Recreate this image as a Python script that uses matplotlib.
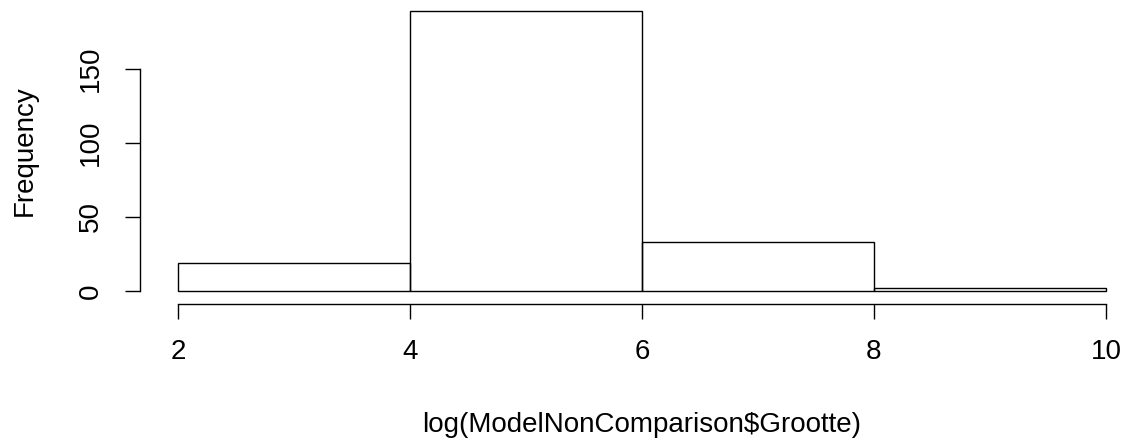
import numpy as np
import matplotlib.pyplot as plt

# histogram of log sizes, bins of width 2
breaks = [2, 4, 6, 8, 10]
counts = [19, 189, 33, 2]
xticks = [2, 4, 6, 8, 10]
yticks = [0, 50, 100, 150]

plt.rcParams['font.family'] = ['Liberation Sans', 'DejaVu Sans']
plt.rcParams['font.size'] = 20

W, H = 1128, 444
fig = plt.figure(figsize=(W / 100, H / 100), dpi=100)

# plot region in pixels (left, top, right, bottom)
left, top, right, bottom = 141, 0, 1143, 302
ax = fig.add_axes([left / W, 1 - bottom / H, (right - left) / W, (bottom - top) / H])

edges = np.array(breaks, dtype=float)
ax.bar(edges[:-1], counts, width=np.diff(edges), align='edge',
       fill=False, edgecolor='black', linewidth=1.0)

# R style axis extension (4% each side)
xr = edges[-1] - edges[0]
ax.set_xlim(edges[0] - 0.04 * xr, edges[-1] + 0.04 * xr)
ymax = max(counts)
ax.set_ylim(-0.04 * ymax, ymax * 1.04)

for s in ['top', 'right']:
    ax.spines[s].set_visible(False)
ax.spines['left'].set_bounds(yticks[0], yticks[-1])
ax.spines['bottom'].set_bounds(xticks[0], xticks[-1])
ax.spines['left'].set_position(('outward', 0.7))
ax.spines['bottom'].set_position(('outward', 1.5))
ax.spines['left'].set_linewidth(1.0)
ax.spines['bottom'].set_linewidth(1.0)

ax.set_xticks(xticks)
ax.set_yticks(yticks)
ax.tick_params(axis='both', direction='out', length=11, width=1.0, pad=14)
ax.tick_params(axis='y', labelrotation=90, pad=15)
for lab in ax.get_yticklabels():
    lab.set_va('center')

ax.set_xlabel('log(ModelNonComparison$Grootte)', va='center')
ax.set_ylabel('Frequency', va='center')
ax.xaxis.set_label_coords(0.5, (444 - 425 - (H - bottom)) / (bottom - top))
ax.yaxis.set_label_coords((25 - left) / (right - left), 0.5)

fig.savefig('out.png', dpi=100)
